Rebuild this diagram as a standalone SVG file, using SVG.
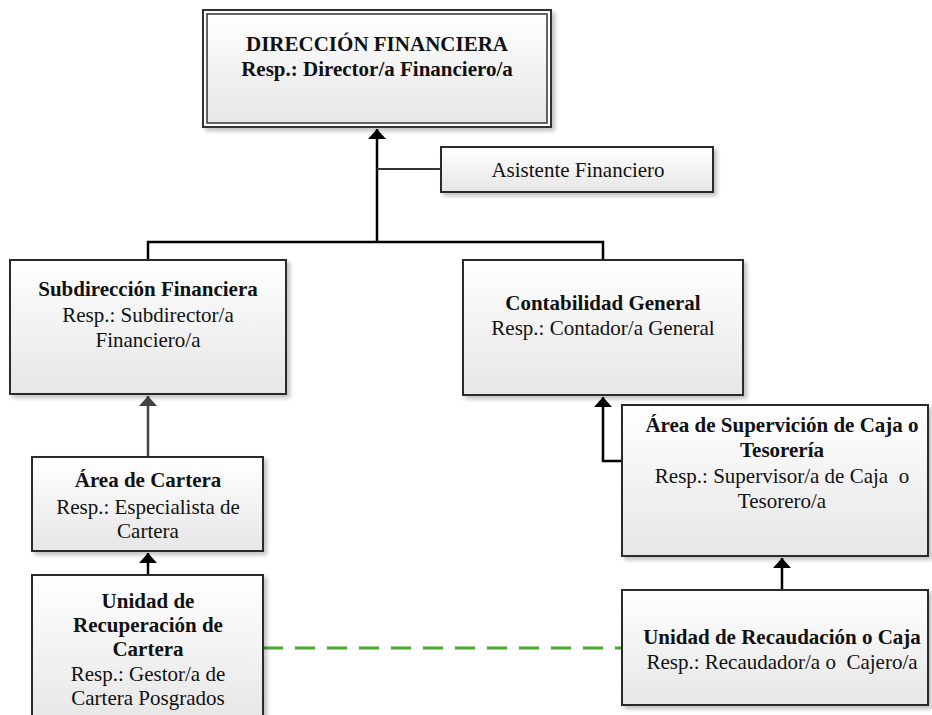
<svg xmlns="http://www.w3.org/2000/svg" width="932" height="715" viewBox="0 0 932 715">
<style>
.box{fill:url(#g);stroke:#2b2b2b;stroke-width:2;filter:url(#sh)}
.b{font-family:"Liberation Serif","Times New Roman",serif;font-weight:bold;font-size:21px;fill:#111;text-anchor:middle;white-space:pre}
.r{font-family:"Liberation Serif","Times New Roman",serif;font-size:21px;fill:#111;text-anchor:middle;white-space:pre}
.c{fill:none;stroke:#000;stroke-width:2.5}
</style>
<defs>
<linearGradient id="g" x1="0" y1="0" x2="0" y2="1">
<stop offset="0" stop-color="#ffffff"/>
<stop offset="1" stop-color="#e6e6e6"/>
</linearGradient>
<filter id="sh" x="-5%" y="-5%" width="115%" height="120%">
<feGaussianBlur in="SourceAlpha" stdDeviation="2"/>
<feOffset dx="3" dy="3"/>
<feComponentTransfer><feFuncA type="linear" slope="0.25"/></feComponentTransfer>
<feMerge><feMergeNode/><feMergeNode in="SourceGraphic"/></feMerge>
</filter>
<marker id="ah" viewBox="0 0 10 18" refX="10" refY="9" markerWidth="10" markerHeight="18" markerUnits="userSpaceOnUse" orient="auto">
<path d="M0,0 L10,9 L0,18 z" fill="#000"/>
</marker>
<marker id="ahg" viewBox="0 0 10 18" refX="10" refY="9" markerWidth="10" markerHeight="18" markerUnits="userSpaceOnUse" orient="auto">
<path d="M0,0 L10,9 L0,18 z" fill="#444"/>
</marker>
</defs>
<rect width="932" height="715" fill="#fff"/>
<g id="connectors">
<path class="c" d="M377,242 V129" marker-end="url(#ah)"/>
<path d="M377,169 H441" fill="none" stroke="#333" stroke-width="2"/>
<path class="c" d="M148,260 V242 H603 V260"/>
<path d="M148,457 V396" fill="none" stroke="#444" stroke-width="2.5" marker-end="url(#ahg)"/>
<path class="c" d="M622,461 H603 V397" marker-end="url(#ah)"/>
<path class="c" d="M148,575 V553" marker-end="url(#ah)"/>
<path class="c" d="M782,590 V558" marker-end="url(#ah)"/>
<path d="M263,648 H622" fill="none" stroke="#4aa82a" stroke-width="3" stroke-dasharray="20,12"/>
</g>
<g id="direccion">
<rect x="203" y="10" width="348" height="117" fill="#fff" stroke="#333" stroke-width="2" filter="url(#sh)"/>
<rect x="207" y="14" width="340" height="109" fill="url(#g)" stroke="#333" stroke-width="1.5"/>
<text class="b" x="377" y="51">DIRECCIÓN FINANCIERA</text>
<text class="b" x="377" y="76">Resp.: Director/a Financiero/a</text>
</g>
<g id="asistente">
<rect class="box" x="441" y="147" width="272" height="45"/>
<text class="r" x="578" y="177">Asistente Financiero</text>
</g>
<g id="subdireccion">
<rect class="box" x="10" y="260" width="276" height="134"/>
<text class="b" x="148" y="296">Subdirección Financiera</text>
<text class="r" x="148" y="322">Resp.: Subdirector/a</text>
<text class="r" x="148" y="347">Financiero/a</text>
</g>
<g id="contabilidad">
<rect class="box" x="463" y="260" width="280" height="135"/>
<text class="b" x="603" y="310">Contabilidad General</text>
<text class="r" x="603" y="335">Resp.: Contador/a General</text>
</g>
<g id="supervicion">
<rect class="box" x="622" y="405" width="306" height="151"/>
<text class="b" x="782" y="432">Área de Supervición de Caja o</text>
<text class="b" x="782" y="457">Tesorería</text>
<text class="r" x="782" y="483">Resp.: Supervisor/a de Caja  o</text>
<text class="r" x="782" y="508">Tesorero/a</text>
</g>
<g id="cartera">
<rect class="box" x="32" y="457" width="231" height="94"/>
<text class="b" x="148" y="487">Área de Cartera</text>
<text class="r" x="148" y="514">Resp.: Especialista de</text>
<text class="r" x="148" y="538">Cartera</text>
</g>
<g id="recuperacion">
<rect class="box" x="32" y="575" width="231" height="150"/>
<text class="b" x="148" y="608">Unidad de</text>
<text class="b" x="148" y="632">Recuperación de</text>
<text class="b" x="148" y="656">Cartera</text>
<text class="r" x="148" y="681">Resp.: Gestor/a de</text>
<text class="r" x="148" y="705">Cartera Posgrados</text>
</g>
<g id="recaudacion">
<rect class="box" x="622" y="590" width="306" height="115"/>
<text class="b" x="782" y="644">Unidad de Recaudación o Caja</text>
<text class="r" x="782" y="669">Resp.: Recaudador/a o  Cajero/a</text>
</g>
</svg>
